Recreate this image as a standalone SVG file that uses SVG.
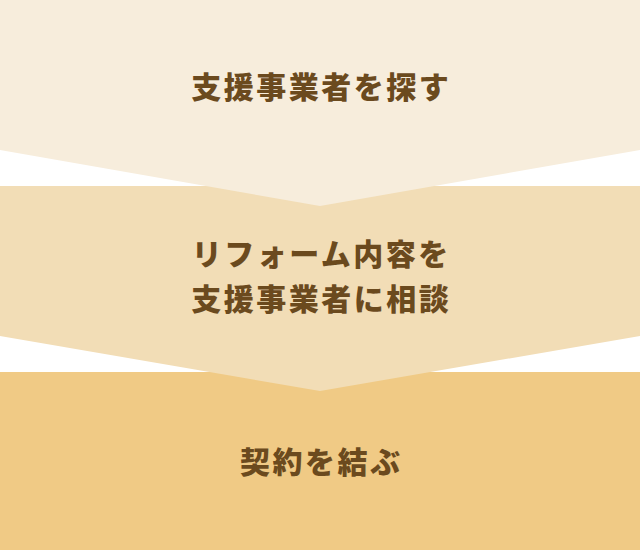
<svg xmlns="http://www.w3.org/2000/svg" width="640" height="550" viewBox="0 0 640 550">
<style>
.t{font-family:"Noto Sans CJK JP","Noto Sans CJK SC",sans-serif;font-weight:900;font-size:30px;letter-spacing:2.5px;fill:#6b4a1e;text-anchor:middle}
</style>
<rect width="640" height="550" fill="#ffffff"/>
<g id="step3">
<rect x="0" y="372" width="640" height="178" fill="#f0ca85"/>
<text class="t" x="321.2" y="473">契約を結ぶ</text>
</g>
<g id="step2">
<polygon points="0,186 640,186 640,336 320,391 0,336" fill="#f2ddb6"/>
<text class="t" x="321.2" y="265">リフォーム内容を</text>
<text class="t" x="321.2" y="310">支援事業者に相談</text>
</g>
<g id="step1">
<polygon points="0,0 640,0 640,150 320,206 0,150" fill="#f7eddc"/>
<text class="t" x="321.2" y="98">支援事業者を探す</text>
</g>
<g id="connectors"></g>
</svg>
